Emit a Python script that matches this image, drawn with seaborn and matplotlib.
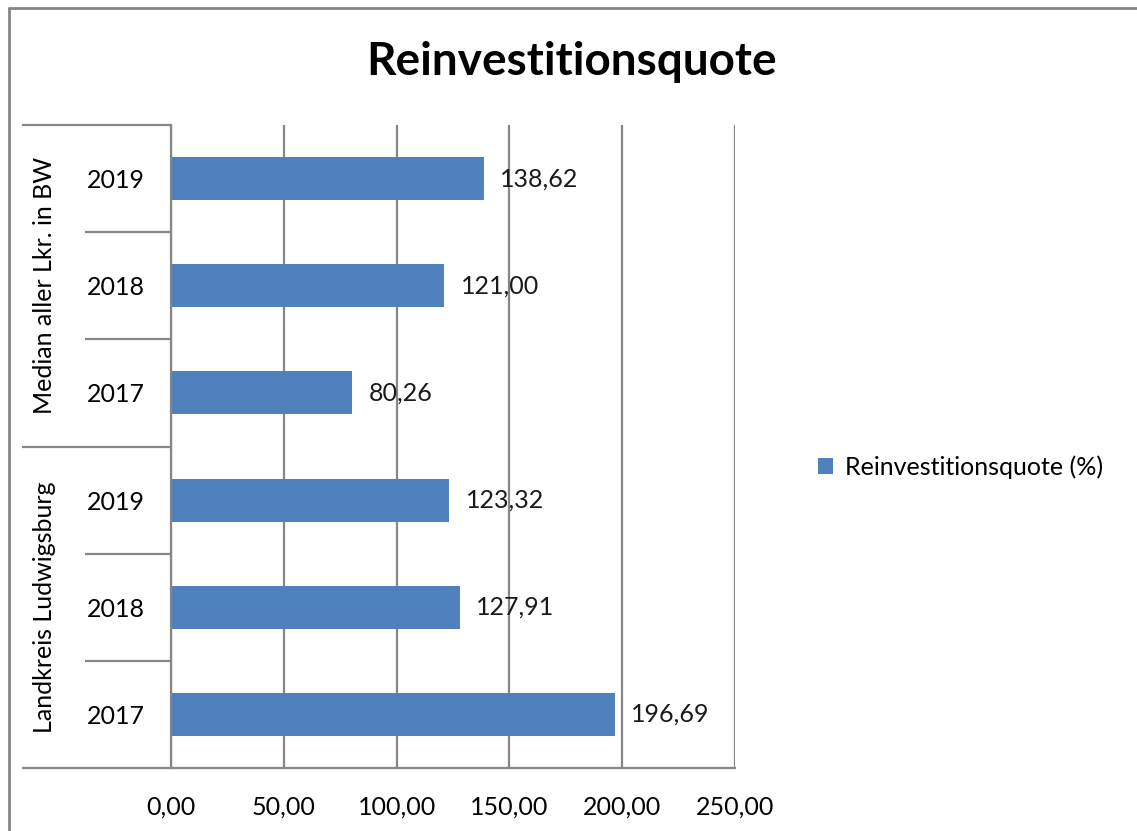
import matplotlib
matplotlib.use("Agg")
import matplotlib.pyplot as plt
import pandas as pd
import seaborn as sns

# data
title = "Reinvestitionsquote"
series_name = "Reinvestitionsquote (%)"
groups = ["Median aller Lkr. in BW", "Landkreis Ludwigsburg"]   # top to bottom
years = ["2019", "2018", "2017"]                                 # top to bottom within a group
median_values = [138.62, 121.00, 80.26]
lk_values = [123.32, 127.91, 196.69]
xticks = [0, 50, 100, 150, 200, 250]

rows = []
for grp, vals in zip(groups, [median_values, lk_values]):
    for yr, v in zip(years, vals):
        rows.append({"row": grp + " " + yr, "group": grp, "year": yr, "value": v})
df = pd.DataFrame(rows)

sns.set_style("white")
plt.rcParams["font.family"] = ["Lato", "DejaVu Sans"]
plt.rcParams["text.color"] = "black"
plt.rcParams["xtick.labelcolor"] = "black"
plt.rcParams["ytick.labelcolor"] = "black"

GRAY = "#868686"
BLUE = "#4F81BD"
W, H = 1137, 831

fig = plt.figure(figsize=(W / 100, H / 100), dpi=100)
ax = fig.add_axes([171 / W, 1 - 768 / H, (735 - 171) / W, (768 - 125) / H])

sns.barplot(data=df, x="value", y="row", color=BLUE, width=0.4, ax=ax,
            label=series_name, saturation=1, edgecolor="none")

ax.set_xlim(0, 250)
ax.set_ylim(len(df) - 0.5, -0.5)
ax.set_xticks(xticks)
ax.set_xticklabels([f"{t:.2f}".replace(".", ",") for t in xticks], fontsize=18)
ax.set_xlabel("")
ax.set_ylabel("")

# year labels centred in their cells
ax.set_yticks(range(len(df)))
ax.set_yticklabels(df["year"], fontsize=18)
for lab in ax.get_yticklabels():
    lab.set_ha("center")
ax.tick_params(axis="y", length=0, pad=40)
ax.tick_params(axis="x", direction="out", length=6, width=1.5, color=GRAY, pad=14)

ax.set_axisbelow(True)
ax.xaxis.grid(True, color=GRAY, lw=1.6)
ax.yaxis.grid(False)
for side in ["top", "right"]:
    ax.spines[side].set_visible(False)
for side in ["left", "bottom"]:
    ax.spines[side].set_color(GRAY)
    ax.spines[side].set_linewidth(1.6)

# value labels
labels = [f"{v:.2f}".replace(".", ",") for v in df["value"]]
ax.bar_label(ax.containers[0], labels=labels, padding=12, fontsize=18, color="#1a1a1a")

# category separators and group labels
trans = ax.get_yaxis_transform()
x_long = (22 - 171) / (735 - 171)
x_short = (85 - 171) / (735 - 171)
n_per = len(years)
for i in range(len(df) + 1):
    y = i - 0.5
    x0 = x_long if i % n_per == 0 else x_short
    ax.plot([x0, 0], [y, y], transform=trans, color=GRAY, lw=1.6,
            clip_on=False, solid_capstyle="butt")
x_grp = (45 - 171) / (735 - 171)
for g, grp in enumerate(groups):
    ax.text(x_grp, g * n_per + (n_per - 1) / 2, grp, transform=trans,
            rotation=90, ha="center", va="center", fontsize=18)

# title and legend
fig.text(572 / W, 1 - 62 / H, title, ha="center", va="center",
         fontsize=33, fontweight="bold")
ax.legend(loc="center left", bbox_to_anchor=(805 / W, 1 - 467 / H),
          bbox_transform=fig.transFigure, frameon=False, fontsize=18,
          handlelength=0.6, handleheight=0.6, handletextpad=0.5, borderpad=0)

# outer chart border (only top and left visible in the crop)
fig.add_artist(plt.Line2D([9 / W, 9 / W], [0, 1 - 8 / H], color=GRAY, lw=2,
                          transform=fig.transFigure))
fig.add_artist(plt.Line2D([9 / W, 1], [1 - 8 / H, 1 - 8 / H], color=GRAY, lw=2,
                          transform=fig.transFigure))

fig.savefig("out.png", dpi=100)
